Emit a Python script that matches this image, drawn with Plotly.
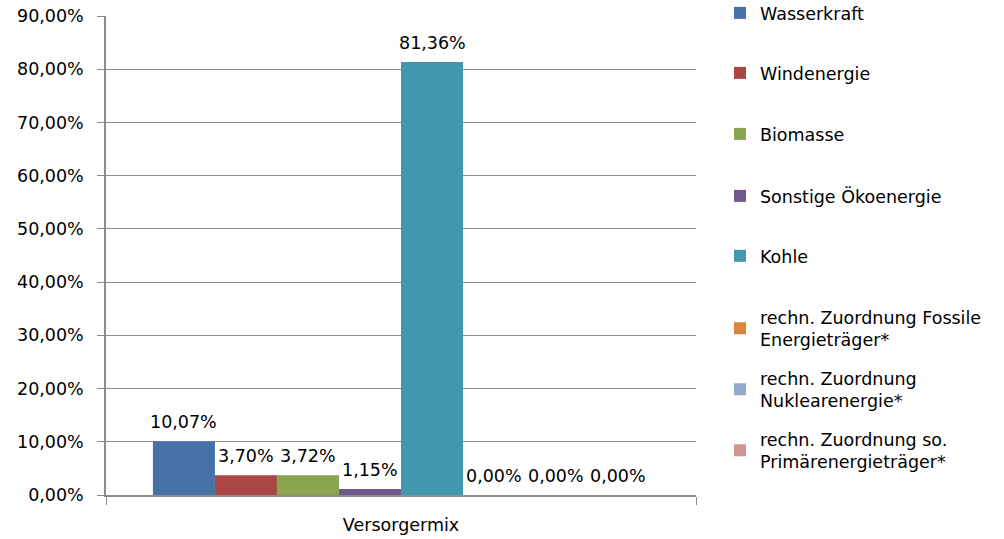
import plotly.graph_objects as go

categories = ["Versorgermix"]
series_names = [
    "Wasserkraft",
    "Windenergie",
    "Biomasse",
    "Sonstige Ökoenergie",
    "Kohle",
    "rechn. Zuordnung Fossile<br>Energieträger*",
    "rechn. Zuordnung<br>Nuklearenergie*",
    "rechn. Zuordnung so.<br>Primärenergieträger*",
]
series_values = [0.1007, 0.0370, 0.0372, 0.0115, 0.8136, 0.0, 0.0, 0.0]
colors = ["#4572A7", "#AA4643", "#89A54E", "#71588F", "#4198AF", "#DB843D", "#93A9CF", "#D19392"]
y_ticks = [0, 0.1, 0.2, 0.3, 0.4, 0.5, 0.6, 0.7, 0.8, 0.9]

# legend entry target centres (px from top of page)
legend_centres = [14, 74, 135, 197, 257, 330, 391, 452]
legend_multiline = [False, False, False, False, False, True, True, True]

FONT = "DejaVu Sans"
FS = 17.5
L, R, T, B = 106, 308, 16, 44
W, H = 1004, 539
PW, PH = W - L - R, H - T - B
BARGAP = 0.159

fig = go.Figure()
for i, (name, val, col) in enumerate(zip(series_names, series_values, colors)):
    lg = "legend" if i == 0 else f"legend{i+1}"
    fig.add_trace(go.Bar(
        x=categories, y=[val], name=name, marker_color=col,
        marker_line_width=0, legend=lg,
    ))

# data labels above each bar of the group
n = len(series_values)
bw = (1 - BARGAP) / n
annotations = []
for i, val in enumerate(series_values):
    xc = -0.5 + BARGAP / 2 + (i + 0.5) * bw
    label = f"{val * 100:.2f}%".replace(".", ",")
    annotations.append(dict(
        x=xc, y=val, xref="x", yref="y", text=label, showarrow=False,
        xanchor="center", yanchor="bottom", yshift=7,
        font=dict(family=FONT, size=FS, color="#000000"),
    ))

layout_legends = {}
for i, (c, ml) in enumerate(zip(legend_centres, legend_multiline)):
    key = "legend" if i == 0 else f"legend{i+1}"
    off = 31 if ml else 19
    top = c - off
    layout_legends[key] = dict(
        xref="paper", yref="paper",
        x=(720 - L) / PW, xanchor="left",
        y=1 - (top - T) / PH, yanchor="top",
        font=dict(family=FONT, size=FS, color="#000000"),
        bgcolor="rgba(0,0,0,0)", itemwidth=30,
    )

fig.update_layout(
    width=W, height=H,
    margin=dict(l=L, r=R, t=T, b=B, autoexpand=False),
    paper_bgcolor="white", plot_bgcolor="white",
    separators=",.",
    barmode="group", bargap=BARGAP, bargroupgap=0,
    font=dict(family=FONT, size=FS, color="#000000"),
    showlegend=True,
    annotations=annotations,
    yaxis=dict(
        range=[0, 0.9], tickvals=y_ticks, tickformat=".2%",
        showgrid=True, gridcolor="#8c8c8c", gridwidth=1,
        showline=True, linecolor="#8c8c8c", linewidth=1.5,
        ticks="outside", ticklen=7, tickcolor="#8c8c8c",
        ticklabelstandoff=10, automargin=False,
        zeroline=False, fixedrange=True,
        tickfont=dict(family=FONT, size=FS, color="#000000"),
    ),
    xaxis=dict(
        range=[-0.5, 0.5],
        showline=True, linecolor="#8c8c8c", linewidth=1.5,
        ticks="outside", tickson="boundaries", ticklen=8, tickcolor="#8c8c8c",
        ticklabelstandoff=13, automargin=False,
        showgrid=False,
        tickfont=dict(family=FONT, size=FS, color="#000000"),
    ),
    **layout_legends,
)

fig.write_html("out.html")
